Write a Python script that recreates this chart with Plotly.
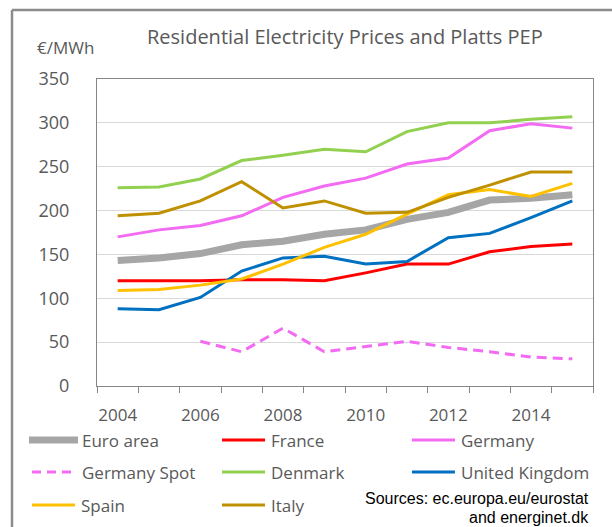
import plotly.graph_objects as go

years = list(range(2004, 2016))
euro_area = [143, 146, 151, 161, 165, 173, 178, 190, 198, 212, 214, 218]
france = [120, 120, 120, 121, 121, 120, 129, 139, 139, 153, 159, 162]
germany = [170, 178, 183, 194, 215, 228, 237, 253, 260, 291, 299, 294]
germany_spot = [None, None, 51, 39, 66, 39, 45, 51, 44, 39, 33, 31]
denmark = [226, 227, 236, 257, 263, 270, 267, 290, 300, 300, 304, 307]
united_kingdom = [88, 87, 101, 131, 146, 148, 139, 142, 169, 174, 192, 211]
spain = [109, 110, 115, 122, 139, 158, 173, 196, 218, 224, 216, 231]
italy = [194, 197, 211, 233, 203, 211, 197, 198, 215, 229, 244, 244]

tick_years = [2004, 2006, 2008, 2010, 2012, 2014]
tick_labels = ["2004", "2006", "2008", "2010", "2012", "2014"]

series = [
    ("Euro area", euro_area, dict(color="#A6A6A6", width=7)),
    ("France", france, dict(color="#FF0000", width=3)),
    ("Germany", germany, dict(color="#F26BF2", width=3)),
    ("Germany Spot", germany_spot, dict(color="#F26BF2", width=3, dash="10px,6px")),
    ("Denmark", denmark, dict(color="#92D050", width=3)),
    ("United Kingdom", united_kingdom, dict(color="#0070C0", width=3)),
    ("Spain", spain, dict(color="#FFC000", width=3)),
    ("Italy", italy, dict(color="#BF9000", width=3)),
]

W, H = 612, 527
L, R, T, B = 97, 593, 79, 386


def px_x(px):
    return (px - L) / (R - L)


def px_y(py):
    return (B - py) / (B - T)


fig = go.Figure()
for name, vals, style in series:
    fig.add_trace(go.Scatter(x=years, y=vals, mode="lines", name=name,
                             line=style, showlegend=False, connectgaps=False,
                             hoverinfo="skip"))

font_main = "Open Sans, sans-serif"
gray_txt = "#595959"
axis_col = "#868686"

shapes = []
annotations = []

# outer frame (top and left)
shapes.append(dict(type="line", xref="paper", yref="paper",
                   x0=px_x(12), x1=px_x(640), y0=px_y(10), y1=px_y(10),
                   line=dict(color="#8C8C8C", width=2.5)))
shapes.append(dict(type="line", xref="paper", yref="paper",
                   x0=px_x(12), x1=px_x(12), y0=px_y(10), y1=px_y(560),
                   line=dict(color="#8C8C8C", width=2.5)))

# manual legend
legend_layout = [
    ("Euro area", 29, 78, 80, 440),
    ("France", 222, 265, 269, 440),
    ("Germany", 412, 455, 459, 440),
    ("Germany Spot", 32, 72, 80, 472),
    ("Denmark", 222, 265, 269, 472),
    ("United Kingdom", 412, 455, 459, 472),
    ("Spain", 32, 75, 79, 505),
    ("Italy", 222, 265, 269, 505),
]
style_by_name = {n: s for n, _, s in series}
for name, x0, x1, tx, y in legend_layout:
    st = dict(style_by_name[name])
    if name == "Germany Spot":
        st["dash"] = "9px,6px"
    shapes.append(dict(type="line", xref="paper", yref="paper",
                       x0=px_x(x0), x1=px_x(x1), y0=px_y(y), y1=px_y(y),
                       line=st))
    annotations.append(dict(text=name, xref="paper", yref="paper",
                            x=px_x(tx), y=px_y(y), xanchor="left", yanchor="middle",
                            showarrow=False,
                            font=dict(family=font_main, size=17, color=gray_txt)))

# title and unit
annotations.append(dict(text="Residential Electricity Prices and Platts PEP",
                        xref="paper", yref="paper", x=px_x(345), y=px_y(37),
                        xanchor="center", yanchor="middle", showarrow=False,
                        font=dict(family=font_main, size=20, color=gray_txt)))
annotations.append(dict(text="€/MWh", xref="paper", yref="paper",
                        x=px_x(65), y=px_y(48), xanchor="center", yanchor="middle",
                        showarrow=False,
                        font=dict(family=font_main, size=17, color=gray_txt)))
# sources
annotations.append(dict(text="Sources: ec.europa.eu/eurostat", xref="paper", yref="paper",
                        x=px_x(591), y=px_y(498), xanchor="right", yanchor="middle",
                        showarrow=False,
                        font=dict(family="Liberation Sans, Arial, sans-serif", size=16, color="#000000")))
annotations.append(dict(text="and energinet.dk", xref="paper", yref="paper",
                        x=px_x(591), y=px_y(517), xanchor="right", yanchor="middle",
                        showarrow=False,
                        font=dict(family="Liberation Sans, Arial, sans-serif", size=16, color="#000000")))

fig.update_layout(
    width=W, height=H,
    margin=dict(l=L, r=W - R, t=T, b=H - B, pad=0),
    paper_bgcolor="white", plot_bgcolor="white",
    showlegend=False,
    hovermode=False,
    shapes=shapes,
    annotations=annotations,
    xaxis=dict(range=[2003.5, 2015.5], tickmode="array", tickvals=tick_years,
               ticktext=tick_labels, ticks="", showgrid=False, zeroline=False,
               showline=True, linecolor=axis_col, linewidth=1, mirror=True,
               ticklabelstandoff=14,
               tickfont=dict(family=font_main, size=17, color=gray_txt),
               minor=dict(tickmode="linear", tick0=2003.5, dtick=1, ticks="outside",
                          ticklen=6, tickcolor=axis_col, tickwidth=1, showgrid=False)),
    yaxis=dict(range=[0, 350], tickmode="linear", tick0=0, dtick=50, ticks="",
               showgrid=True, gridcolor="#D9D9D9", gridwidth=1, zeroline=False,
               showline=True, linecolor=axis_col, linewidth=1, mirror=True,
               ticklabelstandoff=23,
               tickfont=dict(family=font_main, size=18, color=gray_txt)),
)

fig.write_html("out.html", config={"displayModeBar": False},
               post_script="document.body.style.margin='0';document.body.style.padding='0';")
